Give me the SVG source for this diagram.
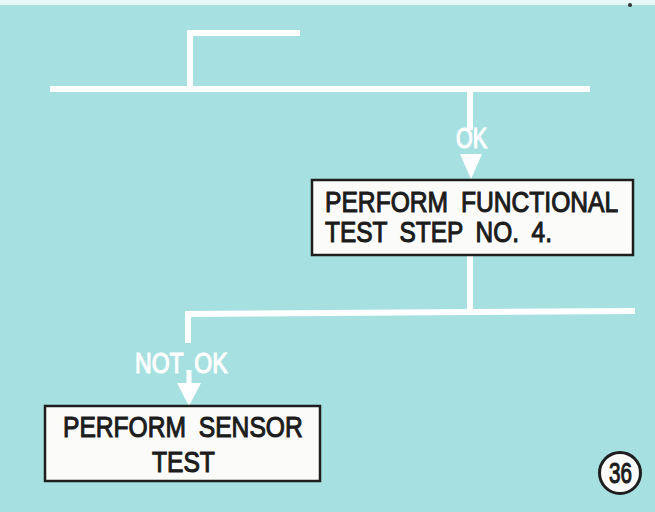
<svg xmlns="http://www.w3.org/2000/svg" width="655" height="512" viewBox="0 0 655 512">
  <style>
    .line { fill: none; stroke: #ffffff; stroke-width: 6; stroke-linecap: butt; stroke-linejoin: miter; }
    .head { fill: #ffffff; }
    .box { fill: #fbfcfa; stroke: #1e1e1e; stroke-width: 2.5; }
    .t { font-family: "Liberation Sans", Arial, sans-serif; font-weight: normal; font-size: 29px; fill: #1c1c1c; stroke: #1c1c1c; stroke-width: 1.1px; word-spacing: 7px; }
    .lbl { font-family: "Liberation Sans", Arial, sans-serif; font-weight: normal; font-size: 29px; fill: #ffffff; stroke: #ffffff; stroke-width: 1.2px; word-spacing: 6px; }
  </style>
  <rect x="0" y="0" width="655" height="512" fill="#a7e0e0"/>
  <rect x="0" y="0" width="655" height="5" fill="#e6f6f5"/>
  <circle cx="630" cy="5" r="2" fill="#333"/>

  <g id="connectors">
    <path class="line" d="M300,33 H190 V89"/>
    <path class="line" d="M50,89 H590"/>
    <path class="line" d="M470,89 V130"/>
    <polygon class="head" points="460,154 482,154 471,179"/>
    <path class="line" d="M470,255 V312"/>
    <path class="line" d="M635,311 L188,314 V343"/>
    <path class="line" d="M189,370 V386" style="stroke-width:5"/>
    <polygon class="head" points="177,383 201,383 189,406"/>
  </g>

  <g id="label-ok">
    <text class="lbl" transform="translate(456,148) scale(0.85,1)" textLength="36.5" lengthAdjust="spacingAndGlyphs">OK</text>
  </g>
  <g id="label-not-ok">
    <text class="lbl" transform="translate(135,373) scale(0.85,1)" textLength="109" lengthAdjust="spacingAndGlyphs">NOT OK</text>
  </g>

  <g id="node-functional-test">
    <rect class="box" x="312" y="180" width="321" height="75"/>
    <text class="t" transform="translate(325,212) scale(0.85,1)" textLength="345" lengthAdjust="spacingAndGlyphs">PERFORM FUNCTIONAL</text>
    <text class="t" transform="translate(325,242) scale(0.85,1)" textLength="267" lengthAdjust="spacingAndGlyphs">TEST STEP NO. 4.</text>
  </g>

  <g id="node-sensor-test">
    <rect class="box" x="45" y="406" width="275" height="75"/>
    <text class="t" transform="translate(63,437) scale(0.85,1)" textLength="282" lengthAdjust="spacingAndGlyphs">PERFORM SENSOR</text>
    <text class="t" transform="translate(152,472) scale(0.85,1)" textLength="74" lengthAdjust="spacingAndGlyphs">TEST</text>
  </g>

  <g id="page-number">
    <circle cx="620" cy="473" r="20.5" fill="#fbfcfa" stroke="#1e1e1e" stroke-width="3"/>
    <text class="t" transform="translate(609,483) scale(0.85,1)" textLength="27" lengthAdjust="spacingAndGlyphs">36</text>
  </g>
</svg>
